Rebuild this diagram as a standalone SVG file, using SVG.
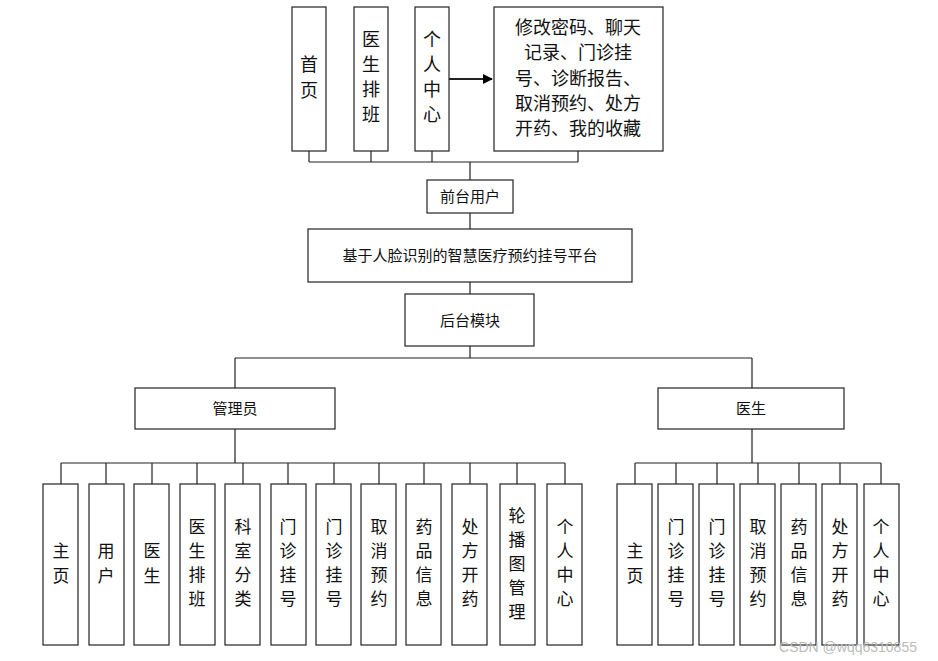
<svg xmlns="http://www.w3.org/2000/svg" width="938" height="661" viewBox="0 0 938 661">
<style>
rect{fill:#fff;stroke:#222;stroke-width:1.2}
text{font-family:"Noto Sans CJK SC","Liberation Sans",sans-serif;fill:#111;text-anchor:middle}
.v{font-size:17px}
.h{font-size:15px}
.b{font-size:18px}
#conn path{fill:none;stroke:#222;stroke-width:1.2}
</style>
<defs><marker id="ar" markerWidth="10" markerHeight="10" refX="9" refY="5" orient="auto" markerUnits="userSpaceOnUse"><path d="M0,0L10,5L0,10z" fill="#000"/></marker></defs>
<rect x="0" y="0" width="938" height="661" style="fill:#fff;stroke:none"/>
<g id="conn">
<path d="M309,151V162M371,151V162M432,151V162M578,151V162M309,162H578M470,162V180M470,213V229M470,282V294M470,346V358M235,358H752M235,358V388M752,358V388"/>
<path d="M449,79H492" marker-end="url(#ar)" style="stroke-width:2"/>
<path d="M235,429V463M61,463H565M61,463V484M106,463V484M152,463V484M197,463V484M243,463V484M288,463V484M334,463V484M379,463V484M424,463V484M470,463V484M517,463V484M565,463V484"/>
<path d="M752,429V463M635,463H881M635,463V484M676,463V484M717,463V484M758,463V484M799,463V484M840,463V484M881,463V484"/>
</g>
<g id="n-home"><rect x="292" y="7" width="34" height="144"/><text class="b" x="309"><tspan x="309" y="71">首</tspan><tspan x="309" y="97">页</tspan></text></g>
<g id="n-sched"><rect x="354" y="7" width="34" height="144"/><text class="b"><tspan x="371" y="46">医</tspan><tspan x="371" y="71">生</tspan><tspan x="371" y="96">排</tspan><tspan x="371" y="121">班</tspan></text></g>
<g id="n-center"><rect x="415" y="7" width="34" height="144"/><text class="b"><tspan x="432" y="46">个</tspan><tspan x="432" y="71">人</tspan><tspan x="432" y="96">中</tspan><tspan x="432" y="121">心</tspan></text></g>
<g id="n-list"><rect x="494" y="7" width="169" height="144"/><text class="b"><tspan x="578" y="34">修改密码、聊天</tspan><tspan x="578" y="59">记录、门诊挂</tspan><tspan x="578" y="85">号、诊断报告、</tspan><tspan x="578" y="110">取消预约、处方</tspan><tspan x="578" y="135">开药、我的收藏</tspan></text></g>
<g id="n-front"><rect x="427" y="180" width="86" height="33"/><text class="h" x="470" y="202">前台用户</text></g>
<g id="n-root"><rect x="308" y="229" width="324" height="53"/><text class="h" x="470" y="261">基于人脸识别的智慧医疗预约挂号平台</text></g>
<g id="n-back"><rect x="405" y="294" width="129" height="52"/><text class="h" x="470" y="326">后台模块</text></g>
<g id="n-admin"><rect x="135" y="388" width="200" height="41"/><text class="h" x="235" y="414">管理员</text></g>
<g id="n-doctor"><rect x="658" y="388" width="186" height="41"/><text class="h" x="751" y="414">医生</text></g>
<g id="a1"><rect x="43" y="484" width="35" height="161"/><text class="v"><tspan x="61" y="557">主</tspan><tspan x="61" y="582">页</tspan></text></g>
<g id="a2"><rect x="89" y="484" width="35" height="161"/><text class="v"><tspan x="106" y="557">用</tspan><tspan x="106" y="582">户</tspan></text></g>
<g id="a3"><rect x="134" y="484" width="35" height="161"/><text class="v"><tspan x="152" y="557">医</tspan><tspan x="152" y="582">生</tspan></text></g>
<g id="a4"><rect x="180" y="484" width="35" height="161"/><text class="v"><tspan x="197" y="533">医</tspan><tspan x="197" y="557">生</tspan><tspan x="197" y="581">排</tspan><tspan x="197" y="605">班</tspan></text></g>
<g id="a5"><rect x="225" y="484" width="35" height="161"/><text class="v"><tspan x="243" y="533">科</tspan><tspan x="243" y="557">室</tspan><tspan x="243" y="581">分</tspan><tspan x="243" y="605">类</tspan></text></g>
<g id="a6"><rect x="271" y="484" width="35" height="161"/><text class="v"><tspan x="288" y="533">门</tspan><tspan x="288" y="557">诊</tspan><tspan x="288" y="581">挂</tspan><tspan x="288" y="605">号</tspan></text></g>
<g id="a7"><rect x="316" y="484" width="35" height="161"/><text class="v"><tspan x="334" y="533">门</tspan><tspan x="334" y="557">诊</tspan><tspan x="334" y="581">挂</tspan><tspan x="334" y="605">号</tspan></text></g>
<g id="a8"><rect x="361" y="484" width="35" height="161"/><text class="v"><tspan x="379" y="533">取</tspan><tspan x="379" y="557">消</tspan><tspan x="379" y="581">预</tspan><tspan x="379" y="605">约</tspan></text></g>
<g id="a9"><rect x="406" y="484" width="35" height="161"/><text class="v"><tspan x="424" y="533">药</tspan><tspan x="424" y="557">品</tspan><tspan x="424" y="581">信</tspan><tspan x="424" y="605">息</tspan></text></g>
<g id="a10"><rect x="452" y="484" width="35" height="161"/><text class="v"><tspan x="470" y="533">处</tspan><tspan x="470" y="557">方</tspan><tspan x="470" y="581">开</tspan><tspan x="470" y="605">药</tspan></text></g>
<g id="a11"><rect x="500" y="484" width="35" height="161"/><text class="v"><tspan x="517" y="522">轮</tspan><tspan x="517" y="546">播</tspan><tspan x="517" y="570">图</tspan><tspan x="517" y="594">管</tspan><tspan x="517" y="618">理</tspan></text></g>
<g id="a12"><rect x="547" y="484" width="35" height="161"/><text class="v"><tspan x="565" y="533">个</tspan><tspan x="565" y="557">人</tspan><tspan x="565" y="581">中</tspan><tspan x="565" y="605">心</tspan></text></g>
<g id="d1"><rect x="617" y="484" width="35" height="161"/><text class="v"><tspan x="635" y="557">主</tspan><tspan x="635" y="582">页</tspan></text></g>
<g id="d2"><rect x="658" y="484" width="35" height="161"/><text class="v"><tspan x="676" y="533">门</tspan><tspan x="676" y="557">诊</tspan><tspan x="676" y="581">挂</tspan><tspan x="676" y="605">号</tspan></text></g>
<g id="d3"><rect x="699" y="484" width="35" height="161"/><text class="v"><tspan x="717" y="533">门</tspan><tspan x="717" y="557">诊</tspan><tspan x="717" y="581">挂</tspan><tspan x="717" y="605">号</tspan></text></g>
<g id="d4"><rect x="740" y="484" width="35" height="161"/><text class="v"><tspan x="758" y="533">取</tspan><tspan x="758" y="557">消</tspan><tspan x="758" y="581">预</tspan><tspan x="758" y="605">约</tspan></text></g>
<g id="d5"><rect x="781" y="484" width="35" height="161"/><text class="v"><tspan x="799" y="533">药</tspan><tspan x="799" y="557">品</tspan><tspan x="799" y="581">信</tspan><tspan x="799" y="605">息</tspan></text></g>
<g id="d6"><rect x="822" y="484" width="35" height="161"/><text class="v"><tspan x="840" y="533">处</tspan><tspan x="840" y="557">方</tspan><tspan x="840" y="581">开</tspan><tspan x="840" y="605">药</tspan></text></g>
<g id="d7"><rect x="864" y="484" width="35" height="161"/><text class="v"><tspan x="881" y="533">个</tspan><tspan x="881" y="557">人</tspan><tspan x="881" y="581">中</tspan><tspan x="881" y="605">心</tspan></text></g>
<text x="848" y="652" style="font-size:14px;fill:#bbb;font-family:'Liberation Sans',sans-serif">CSDN @wqq6310855</text>
</svg>
